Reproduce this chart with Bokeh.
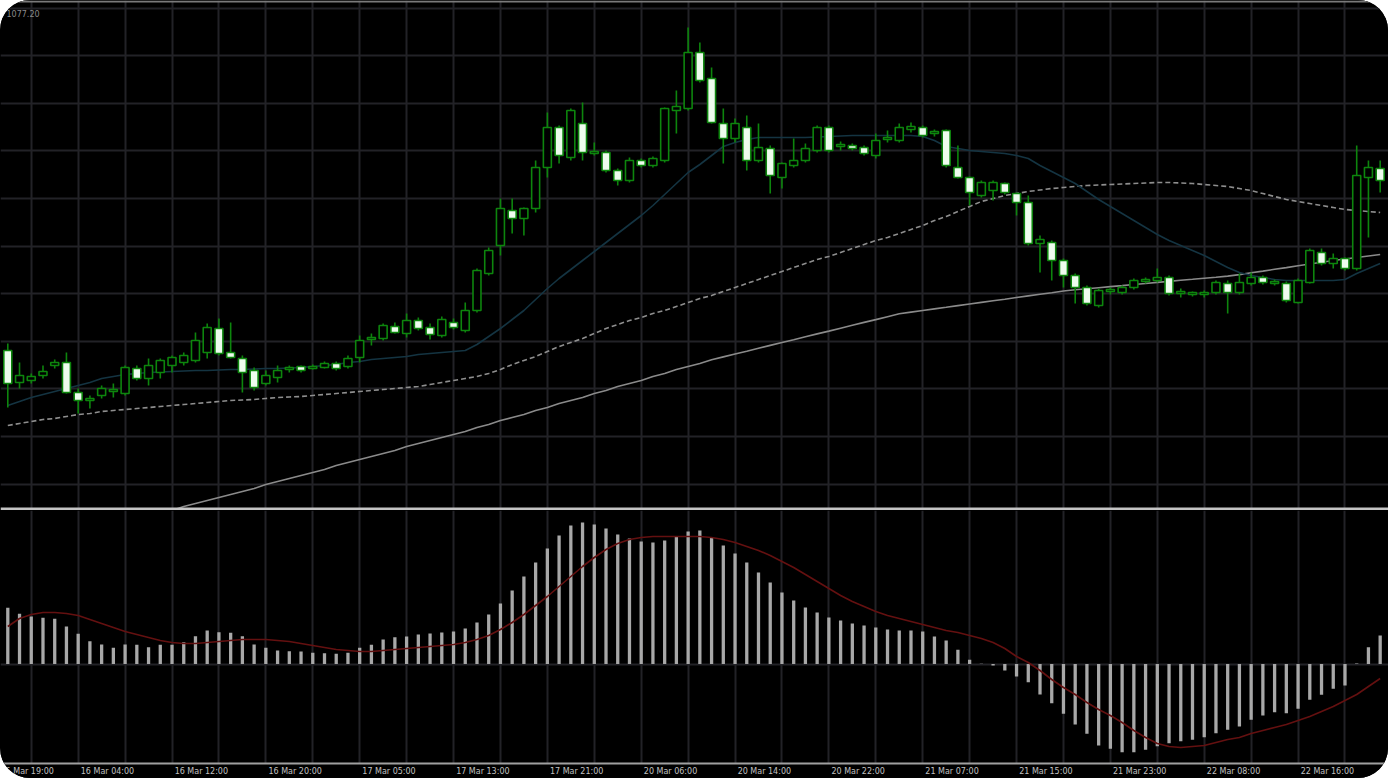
from bokeh.plotting import figure
from bokeh.layouts import column
from bokeh.models import FixedTicker, Span, Label, ColumnDataSource, Range1d
from bokeh.embed import file_html
from bokeh.resources import INLINE

# ---------------- data (hourly candles) ----------------
opens = [
    1065.0, 1061.8, 1062.0, 1062.5, 1063.5, 1063.8, 1060.8, 1060.0, 1060.5, 1060.9,
    1060.7, 1063.2, 1062.2, 1062.8, 1063.5, 1063.8, 1064.0, 1064.8, 1067.2, 1064.8,
    1064.2, 1063.0, 1061.7, 1062.3, 1063.1, 1063.4, 1063.2, 1063.3, 1063.7, 1063.4,
    1064.3, 1066.1, 1066.2, 1067.4, 1066.7, 1068.0, 1067.3, 1066.5, 1067.8, 1067.0,
    1069.0, 1072.7, 1075.5, 1079.0, 1078.2, 1079.2, 1083.3, 1087.3, 1084.3, 1087.7,
    1084.7, 1084.8, 1083.0, 1082.0, 1084.0, 1083.5, 1084.0, 1089.0, 1089.2, 1094.8,
    1092.2, 1087.7, 1086.2, 1087.3, 1084.0, 1085.2, 1082.3, 1083.5, 1084.0, 1085.0,
    1087.3, 1085.4, 1085.5, 1085.3, 1084.5, 1086.1, 1086.0, 1087.1, 1087.3, 1086.7,
    1087.0, 1083.3, 1082.3, 1080.5, 1081.0, 1081.7, 1080.7, 1079.8, 1075.7, 1075.8,
    1074.0, 1072.5, 1071.3, 1069.5, 1070.9, 1070.8, 1071.3, 1071.9, 1072.0, 1072.3,
    1070.7, 1070.6, 1070.6, 1070.8, 1071.7, 1070.8, 1071.7, 1072.3, 1071.7, 1071.7,
    1069.8, 1071.8, 1074.8, 1073.7, 1074.2, 1073.2, 1082.3, 1083.2,
]
highs = [
    1065.7, 1063.8, 1062.7, 1063.5, 1064.1, 1064.8, 1061.2, 1060.5, 1061.5, 1061.7,
    1063.5, 1063.5, 1064.2, 1064.2, 1064.5, 1064.8, 1066.8, 1067.7, 1068.2, 1067.8,
    1064.5, 1063.3, 1063.0, 1063.5, 1063.5, 1063.5, 1063.6, 1063.9, 1063.9, 1064.5,
    1066.5, 1066.7, 1067.7, 1067.8, 1068.7, 1068.3, 1067.7, 1068.4, 1068.2, 1069.8,
    1073.2, 1075.3, 1080.2, 1080.2, 1079.3, 1084.0, 1088.8, 1087.5, 1089.2, 1089.8,
    1085.8, 1085.0, 1083.2, 1084.3, 1084.2, 1084.4, 1089.3, 1091.0, 1097.3, 1095.8,
    1093.3, 1089.2, 1088.2, 1088.5, 1087.7, 1085.5, 1083.8, 1086.2, 1085.7, 1087.5,
    1087.5, 1085.9, 1085.7, 1085.5, 1086.7, 1087.0, 1087.7, 1087.8, 1087.5, 1087.1,
    1087.1, 1085.5, 1082.4, 1082.0, 1082.0, 1081.8, 1080.8, 1080.5, 1076.5, 1076.0,
    1074.2, 1072.7, 1071.5, 1071.2, 1071.3, 1071.5, 1072.2, 1072.3, 1073.2, 1072.5,
    1071.2, 1070.9, 1071.0, 1072.0, 1072.0, 1072.7, 1072.8, 1072.5, 1072.1, 1071.9,
    1072.2, 1075.2, 1075.2, 1074.7, 1074.3, 1085.5, 1084.0, 1084.0,
]
lows = [
    1059.3, 1061.2, 1061.7, 1062.2, 1063.2, 1060.7, 1058.7, 1059.2, 1060.2, 1060.3,
    1060.5, 1062.0, 1061.5, 1062.2, 1062.8, 1063.5, 1063.8, 1064.2, 1064.5, 1064.2,
    1060.8, 1061.0, 1061.5, 1061.8, 1062.8, 1062.8, 1063.1, 1063.2, 1063.0, 1063.2,
    1063.8, 1065.5, 1066.0, 1066.7, 1066.3, 1067.0, 1066.1, 1066.3, 1067.1, 1066.8,
    1068.8, 1072.5, 1074.5, 1076.7, 1076.5, 1078.8, 1082.3, 1083.7, 1084.0, 1084.0,
    1084.5, 1082.8, 1081.5, 1081.8, 1083.3, 1083.3, 1083.8, 1086.7, 1089.0, 1091.8,
    1087.7, 1083.7, 1085.8, 1083.0, 1083.8, 1080.7, 1081.2, 1083.3, 1083.8, 1084.8,
    1084.8, 1085.0, 1085.0, 1084.5, 1084.2, 1085.8, 1085.8, 1086.8, 1086.3, 1086.4,
    1083.3, 1082.2, 1079.5, 1080.3, 1080.0, 1080.6, 1078.5, 1075.5, 1072.8, 1072.0,
    1071.3, 1069.7, 1069.5, 1069.3, 1070.6, 1070.6, 1071.1, 1071.7, 1071.8, 1070.5,
    1070.3, 1070.4, 1070.3, 1070.6, 1068.7, 1070.6, 1071.5, 1071.6, 1071.5, 1069.8,
    1069.7, 1071.7, 1073.5, 1073.2, 1073.0, 1073.0, 1076.3, 1080.8,
]
closes = [
    1061.7, 1062.5, 1062.4, 1062.9, 1063.8, 1060.8, 1060.0, 1060.2, 1061.2, 1061.1,
    1063.3, 1062.2, 1063.5, 1064.0, 1064.3, 1064.5, 1066.0, 1067.3, 1064.7, 1064.3,
    1062.8, 1061.3, 1062.5, 1063.0, 1063.3, 1063.0, 1063.4, 1063.7, 1063.2, 1064.2,
    1066.0, 1066.3, 1067.5, 1066.8, 1068.0, 1067.2, 1066.6, 1068.1, 1067.3, 1069.0,
    1073.0, 1075.0, 1079.2, 1078.2, 1079.2, 1083.3, 1087.3, 1084.5, 1089.0, 1084.8,
    1084.9, 1083.0, 1082.0, 1084.0, 1083.5, 1084.2, 1089.2, 1089.4, 1094.8, 1092.0,
    1087.8, 1086.2, 1087.7, 1084.0, 1085.3, 1082.5, 1083.7, 1084.0, 1085.2, 1087.3,
    1085.0, 1085.6, 1085.2, 1084.7, 1086.0, 1086.3, 1087.3, 1087.4, 1086.5, 1086.9,
    1083.5, 1082.3, 1080.8, 1081.8, 1081.8, 1080.8, 1079.8, 1075.7, 1076.1, 1074.0,
    1072.5, 1071.3, 1069.7, 1071.0, 1071.1, 1071.3, 1072.0, 1072.1, 1072.3, 1070.7,
    1070.9, 1070.8, 1070.8, 1071.8, 1070.8, 1071.8, 1072.3, 1071.8, 1071.9, 1070.0,
    1072.0, 1075.0, 1073.7, 1074.2, 1073.2, 1082.5, 1083.3, 1082.0,
]
# moving averages on the price panel
ma_fast = [
    1059.5, 1059.9, 1060.3, 1060.6, 1060.9, 1061.2, 1061.5, 1061.8, 1062.2, 1062.4,
    1062.6, 1062.7, 1062.8, 1062.85, 1062.9, 1062.95, 1063.0, 1063.0, 1063.05, 1063.1,
    1063.1, 1063.15, 1063.2, 1063.2, 1063.25, 1063.3, 1063.4, 1063.5, 1063.6, 1063.8,
    1063.9, 1064.1, 1064.2, 1064.3, 1064.4, 1064.6, 1064.7, 1064.8, 1064.9, 1065.0,
    1065.6, 1066.4, 1067.2, 1068.1, 1069.0, 1070.1, 1071.2, 1072.2, 1073.1, 1074.0,
    1074.9, 1075.8, 1076.7, 1077.6, 1078.5, 1079.5, 1080.6, 1081.7, 1082.8, 1083.6,
    1084.5, 1085.4, 1085.8, 1086.1, 1086.3, 1086.3, 1086.3, 1086.3, 1086.3, 1086.35,
    1086.4, 1086.45, 1086.5, 1086.5, 1086.5, 1086.5, 1086.5, 1086.5, 1086.4, 1086.0,
    1085.4, 1085.2, 1085.0, 1084.9, 1084.8, 1084.7, 1084.5, 1084.2, 1083.5, 1082.9,
    1082.3, 1081.7, 1080.9, 1080.1, 1079.4, 1078.7, 1078.0, 1077.3, 1076.6, 1076.0,
    1075.5, 1075.0, 1074.5, 1073.9, 1073.3, 1072.8, 1072.5, 1072.3, 1072.1, 1072.0,
    1072.0, 1072.0, 1072.0, 1072.0, 1072.1, 1072.7, 1073.2, 1073.7,
]
ma_mid = [
    1057.5, 1057.7, 1057.9, 1058.1, 1058.2, 1058.4, 1058.6, 1058.7, 1058.9, 1059.0,
    1059.1, 1059.2, 1059.3, 1059.4, 1059.5, 1059.6, 1059.7, 1059.8, 1059.9, 1060.0,
    1060.05, 1060.1, 1060.2, 1060.3, 1060.35, 1060.4, 1060.5, 1060.6, 1060.7, 1060.8,
    1060.9, 1061.0, 1061.1, 1061.2, 1061.3, 1061.4, 1061.6, 1061.8, 1062.0, 1062.2,
    1062.4, 1062.7, 1063.1, 1063.6, 1064.0, 1064.4, 1064.9, 1065.4, 1065.8, 1066.2,
    1066.7, 1067.2, 1067.6, 1068.0, 1068.3, 1068.7, 1069.0, 1069.4, 1069.8, 1070.2,
    1070.5, 1070.9, 1071.3, 1071.7, 1072.1, 1072.5, 1072.9, 1073.3, 1073.7, 1074.1,
    1074.4, 1074.8, 1075.2, 1075.6, 1076.0, 1076.3, 1076.7, 1077.1, 1077.5, 1078.0,
    1078.4, 1078.9, 1079.4, 1079.9, 1080.2, 1080.5, 1080.7, 1080.9, 1081.05, 1081.2,
    1081.3, 1081.4, 1081.5, 1081.55, 1081.6, 1081.65, 1081.7, 1081.75, 1081.8, 1081.8,
    1081.75, 1081.7, 1081.6, 1081.5, 1081.4, 1081.2, 1081.0, 1080.7, 1080.4, 1080.1,
    1079.9, 1079.7, 1079.5, 1079.3, 1079.1, 1079.0, 1078.9, 1078.8,
]
ma_slow = [
    1044.6, 1044.9, 1045.3, 1045.6, 1045.9, 1046.2, 1046.5, 1046.8, 1047.1, 1047.5,
    1047.8, 1048.1, 1048.4, 1048.7, 1049.0, 1049.4, 1049.7, 1050.0, 1050.3, 1050.6,
    1050.9, 1051.2, 1051.6, 1051.9, 1052.2, 1052.5, 1052.8, 1053.1, 1053.5, 1053.8,
    1054.1, 1054.4, 1054.7, 1055.0, 1055.4, 1055.7, 1056.0, 1056.3, 1056.6, 1056.9,
    1057.3, 1057.6, 1058.0, 1058.3, 1058.6, 1059.0, 1059.3, 1059.7, 1060.0, 1060.3,
    1060.7, 1061.0, 1061.4, 1061.7, 1062.0, 1062.4, 1062.7, 1063.1, 1063.4, 1063.7,
    1064.07, 1064.36, 1064.65, 1064.93, 1065.22, 1065.51, 1065.8, 1066.08, 1066.37, 1066.66,
    1066.94, 1067.23, 1067.52, 1067.81, 1068.09, 1068.38, 1068.67, 1068.84, 1069.0, 1069.16,
    1069.32, 1069.49, 1069.65, 1069.81, 1069.97, 1070.13, 1070.3, 1070.46, 1070.62, 1070.78,
    1070.95, 1071.07, 1071.17, 1071.28, 1071.39, 1071.49, 1071.6, 1071.7, 1071.81, 1071.91,
    1072.02, 1072.12, 1072.23, 1072.33, 1072.44, 1072.59, 1072.77, 1072.94, 1073.12, 1073.29,
    1073.47, 1073.65, 1073.82, 1074.0, 1074.15, 1074.3, 1074.45, 1074.6,
]
# MACD panel (points)
macd_hist = [
    56.2, 50.2, 47.5, 46.2, 45.2, 37.5, 30.2, 22.8, 19.5, 16.2,
    19.5, 19.2, 16.8, 19.2, 19.2, 21.8, 27.8, 33.5, 31.8, 31.2,
    27.8, 19.5, 16.2, 13.5, 12.8, 12.5, 11.2, 10.8, 10.2, 11.2,
    16.2, 19.2, 24.5, 26.8, 27.5, 29.5, 30.5, 31.5, 32.5, 35.5,
    41.5, 49.5, 60.5, 73.5, 87.5, 101.5, 115.5, 128.5, 138.5, 141.5,
    139.5, 135.5, 129.5, 125.5, 122.5, 121.5, 123.5, 127.5, 132.5, 133.5,
    126.5, 118.5, 110.5, 101.5, 91.5, 81.5, 71.5, 63.5, 56.5, 51.5,
    46.5, 43.5, 40.5, 38.5, 36.5, 34.5, 33.5, 33.5, 32.5, 27.5,
    23.5, 14.2, 4.2, 0.2, -1.5, -6.5, -12.5, -18.2, -30.5, -39.2,
    -49.8, -60.5, -69.8, -81.5, -84.8, -88.2, -88.2, -85.8, -82.2, -79.2,
    -77.2, -75.8, -73.2, -69.2, -65.8, -62.5, -55.8, -51.5, -48.2, -49.2,
    -44.8, -35.8, -30.8, -24.8, -21.5, 0.5, 16.8, 28.5,
]
macd_signal = [
    37.5, 45.5, 49.5, 51.5, 51.5, 50.5, 48.5, 44.5, 40.5, 36.5,
    32.5, 29.5, 26.5, 23.5, 21.5, 20.5, 20.5, 21.5, 22.5, 23.5,
    24.5, 24.5, 24.5, 23.5, 22.5, 20.5, 18.5, 16.5, 14.5, 13.5,
    12.5, 12.5, 13.5, 14.5, 15.5, 16.5, 17.5, 18.5, 19.5, 21.5,
    24.5, 28.5, 34.5, 41.5, 49.5, 58.5, 67.5, 77.5, 87.5, 97.5,
    106.5, 114.5, 120.5, 124.5, 126.5, 127.5, 127.5, 127.5, 127.5, 127.5,
    126.5, 124.5, 121.5, 117.5, 113.5, 108.5, 102.5, 96.5, 89.5, 82.5,
    75.5, 68.5, 62.5, 57.5, 52.5, 48.5, 45.5, 42.5, 39.5, 36.5,
    33.5, 31.5, 28.5, 25.5, 21.5, 15.5, 7.5, 1.5, -6.5, -15.5,
    -23.5, -30.5, -38.5, -45.5, -51.5, -58.5, -66.5, -73.5, -79.5, -82.5,
    -83.5, -82.5, -81.5, -78.5, -75.5, -73.5, -69.5, -66.5, -63.5, -60.5,
    -56.5, -52.5, -47.5, -42.5, -36.5, -30.5, -22.5, -14.5,
]
time_labels = [
    "15 Mar 19:00", "16 Mar 04:00", "16 Mar 12:00", "16 Mar 20:00", "17 Mar 05:00",
    "17 Mar 13:00", "17 Mar 21:00", "20 Mar 06:00", "20 Mar 14:00", "20 Mar 22:00",
    "21 Mar 07:00", "21 Mar 15:00", "21 Mar 23:00", "22 Mar 08:00", "22 Mar 16:00",
]
label_bars = [-2, 6, 14, 22, 30, 38, 46, 54, 62, 70, 78, 86, 94, 102, 110]
price_grid = [1099.24, 1094.48, 1089.72, 1084.96, 1080.2, 1075.44, 1070.68,
              1065.92, 1061.16, 1056.4, 1051.64]
top_label = "1077.20"

# ---------------- styling ----------------
BG = "#000000"
GRID = "#222227"
GREEN = "#0d850d"
BEAR_FILL = "#eefcee"

n = len(opens)
xs = list(range(n))
bull = [c >= o for o, c in zip(opens, closes)]
src = ColumnDataSource(dict(
    x=xs, h=highs, l=lows,
    top=[max(o, c) for o, c in zip(opens, closes)],
    bot=[min(o, c) for o, c in zip(opens, closes)],
    fill=[BG if b else BEAR_FILL for b in bull],
))

xr = Range1d(-0.622, 117.71)
grid_x = FixedTicker(ticks=[2 + 4 * k for k in range(29)])

p1 = figure(frame_width=1388, frame_height=510, x_range=xr, y_range=Range1d(1049, 1100),
            x_axis_location=None, y_axis_location=None, toolbar_location=None,
            output_backend="svg", min_border=0)
p1.background_fill_color = BG
p1.border_fill_color = BG
p1.outline_line_color = None
p1.xgrid.ticker = grid_x
p1.ygrid.ticker = FixedTicker(ticks=price_grid)
for g in (p1.xgrid, p1.ygrid):
    g.grid_line_color = GRID
    g.grid_line_width = 2

p1.line(xs, ma_slow, line_color="#8a8a8a", line_width=1.6)
p1.line(xs, ma_mid, line_color="#8e8e8e", line_width=1.6, line_dash="5 3")
p1.line(xs, ma_fast, line_color="#143442", line_width=1.6)

p1.segment(x0="x", y0="h", x1="x", y1="l", source=src, line_color=GREEN, line_width=1.6)
p1.vbar(x="x", width=0.68, top="top", bottom="bot", source=src,
        fill_color="fill", line_color=GREEN, line_width=1.6)

p1.add_layout(Span(location=1049.15, dimension="width", line_color="#c4c4c4", line_width=3))
p1.add_layout(Span(location=1099.9, dimension="width", line_color="#7a7a7a", line_width=2))
p1.add_layout(Label(x=6, y=494, x_units="screen", y_units="screen", text=top_label,
                    text_font_size="8px", text_color="#8a8a8a", text_font="DejaVu Sans"))

p2 = figure(frame_width=1388, frame_height=253, x_range=xr, y_range=Range1d(-99.5, 153.5),
            x_axis_location="below", y_axis_location=None, toolbar_location=None,
            output_backend="svg", min_border=0)
p2.background_fill_color = BG
p2.border_fill_color = BG
p2.outline_line_color = None
p2.xgrid.ticker = grid_x
p2.ygrid.ticker = FixedTicker(ticks=[0])
for g in (p2.xgrid, p2.ygrid):
    g.grid_line_color = GRID
    g.grid_line_width = 2

p2.vbar(x=xs, top=macd_hist, bottom=0, width=0.28, fill_color="#a8a8a8", line_color=None)
p2.line(xs, macd_signal, line_color="#641010", line_width=1.6)

ax = p2.xaxis[0]
tick_pos = [b + 2.5 for b in label_bars]
ax.ticker = FixedTicker(ticks=tick_pos)
ax.major_label_overrides = {t: s for t, s in zip(tick_pos, time_labels)}
ax.axis_line_color = "#a0a0a0"
ax.axis_line_width = 2
ax.major_tick_in = 0
ax.major_tick_out = 0
ax.major_tick_line_color = None
ax.minor_tick_line_color = None
ax.major_label_text_color = "#c0c0c0"
ax.major_label_text_font = "DejaVu Sans"
ax.major_label_text_font_size = "8px"
ax.major_label_standoff = 3

layout = column(p1, p2, spacing=0,
                styles={"position": "absolute", "left": "0px", "top": "0px",
                        "border-radius": "30px", "overflow": "hidden",
                        "background-color": "#000000"})

open("out.html", "w").write(file_html(layout, INLINE))
